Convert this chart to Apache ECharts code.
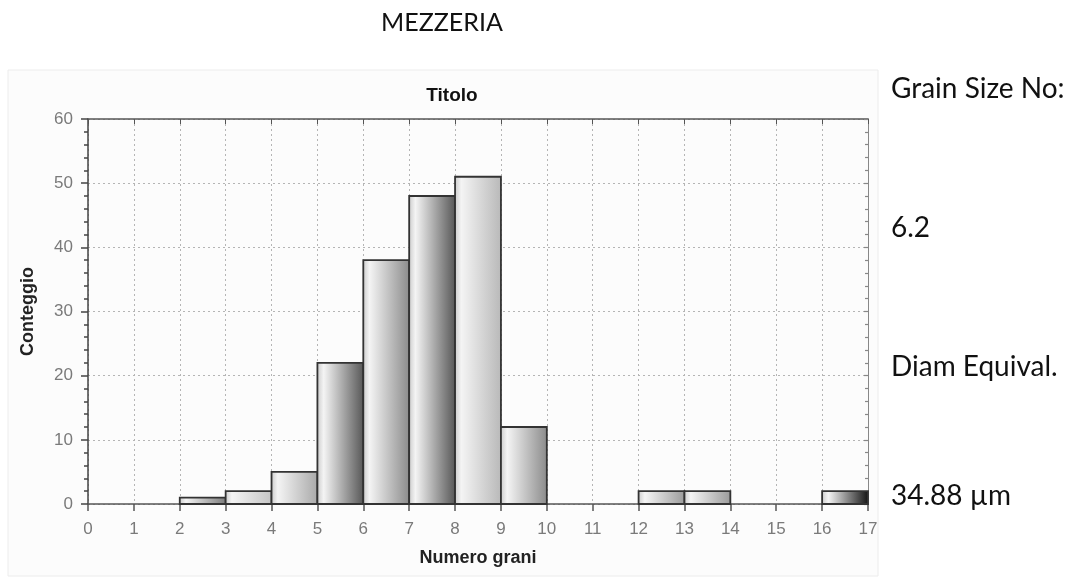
<!DOCTYPE html>
<html>
<head>
<meta charset="utf-8">
<script src="https://cdn.jsdelivr.net/npm/echarts@6/dist/echarts.min.js"></script>
<style>
  html, body { margin: 0; padding: 0; background: #ffffff; }
  #chart { width: 1076px; height: 579px; }
</style>
</head>
<body>
<div id="chart"></div>
<script>
// Histogram bins: lower edge of each bin (width 1) and its count
const binStart = [2, 3, 4, 5, 6, 7, 8, 9, 12, 13, 16];
const counts   = [1, 2, 5, 22, 38, 48, 51, 12, 2, 2, 2];
// Darkest shade reached at the right side of each bar's gradient
const shades   = ['#7a7a7a', '#c4c4c4', '#a8a8a8', '#555555', '#8a8a8a', '#555555', '#b8b8b8', '#8a8a8a', '#9a9a9a', '#9a9a9a', '#111111'];

const xTicks = [0, 17, 1];   // min, max, step
const yTicks = [0, 60, 10];

const sideNotes = [
  { text: 'Grain Size No:', y: 89 },
  { text: '6.2', y: 228 },
  { text: 'Diam Equival.', y: 367 },
  { text: '34.88 \u00b5m', y: 496 }
];

const data = binStart.map((s, i) => [s, s + 1, counts[i], i]);

const chart = echarts.init(document.getElementById('chart'), null, { renderer: 'canvas' });

const gridLine = { show: true, lineStyle: { color: '#b5b5b5', type: [2, 3], width: 1 } };
const chartFont = 'Liberation Sans, Arial, sans-serif';

const option = {
  animation: false,
  backgroundColor: '#ffffff',
  title: {
    text: 'Titolo',
    left: 447, top: 81, textAlign: 'center',
    textStyle: { fontFamily: chartFont, fontWeight: 'bold', fontSize: 19, color: '#111' }
  },
  graphic: [
    {
      type: 'rect', z: -10,
      shape: { x: 8, y: 70, width: 870, height: 506 },
      style: { fill: '#fcfcfc', stroke: '#ececec', lineWidth: 1 }
    },
    {
      type: 'text', z: 10,
      style: { text: 'MEZZERIA', x: 442, y: 23, align: 'center', verticalAlign: 'middle',
               font: '25px Lato, "Open Sans", sans-serif', fill: '#111' }
    }
  ].concat(sideNotes.map(n => ({
    type: 'text', z: 10,
    style: { text: n.text, x: 891, y: n.y, align: 'left', verticalAlign: 'middle',
             font: '28px Lato, "Open Sans", sans-serif', fill: '#111' }
  }))),
  grid: { left: 88, top: 119, width: 780, height: 385, show: false },
  xAxis: [
    {
      type: 'value', min: xTicks[0], max: xTicks[1], interval: xTicks[2], position: 'bottom',
      name: 'Numero grani', nameLocation: 'middle', nameGap: 45,
      nameTextStyle: { fontFamily: chartFont, fontWeight: 'bold', fontSize: 18, color: '#222' },
      axisLine: { show: true, onZero: false, lineStyle: { color: '#555', width: 1.5 } },
      axisTick: { show: true, inside: false, length: 7, lineStyle: { color: '#555', width: 1.5 } },
      axisLabel: { color: '#7a7a7a', fontFamily: chartFont, fontSize: 17, margin: 17 },
      splitLine: gridLine
    },
    {
      type: 'value', min: xTicks[0], max: xTicks[1], interval: xTicks[2], position: 'top',
      axisLine: { show: true, onZero: false, lineStyle: { color: '#555', width: 1.5 } },
      axisTick: { show: true, inside: true, length: 5, lineStyle: { color: '#555', width: 1 } },
      axisLabel: { show: false },
      splitLine: { show: false }
    }
  ],
  yAxis: [
    {
      type: 'value', min: yTicks[0], max: yTicks[1], interval: yTicks[2], position: 'left',
      name: 'Conteggio', nameLocation: 'middle', nameGap: 51, nameRotate: 90,
      nameTextStyle: { fontFamily: chartFont, fontWeight: 'bold', fontSize: 18, color: '#222' },
      axisLine: { show: true, onZero: false, lineStyle: { color: '#444', width: 1.5 } },
      axisTick: { show: true, inside: false, length: 7, lineStyle: { color: '#444', width: 1.5 } },
      minorTick: { show: true, splitNumber: 5, length: 4, lineStyle: { color: '#444', width: 1.5 } },
      axisLabel: { color: '#7a7a7a', fontFamily: chartFont, fontSize: 17, margin: 15 },
      splitLine: gridLine
    },
    {
      type: 'value', min: yTicks[0], max: yTicks[1], interval: yTicks[2], position: 'right',
      axisLine: { show: true, onZero: false, lineStyle: { color: '#888', width: 1 } },
      axisTick: { show: true, inside: true, length: 4, lineStyle: { color: '#888', width: 1.2 } },
      minorTick: { show: true, splitNumber: 5, length: 3, lineStyle: { color: '#888', width: 1.2 } },
      axisLabel: { show: false },
      splitLine: { show: false }
    }
  ],
  series: [
    {
      type: 'custom',
      xAxisIndex: 0, yAxisIndex: 0,
      encode: { x: [0, 1], y: 2 },
      data: data,
      renderItem: function (params, api) {
        const p0 = api.coord([api.value(0), api.value(2)]);
        const p1 = api.coord([api.value(1), 0]);
        const idx = api.value(3);
        return {
          type: 'rect',
          shape: { x: p0[0], y: p0[1], width: p1[0] - p0[0], height: p1[1] - p0[1] },
          style: {
            fill: new echarts.graphic.LinearGradient(0, 0, 1, 0, [
              { offset: 0, color: '#c8c8c8' },
              { offset: 0.15, color: '#f4f4f4' },
              { offset: 1, color: shades[idx] }
            ]),
            stroke: '#333333',
            lineWidth: 1.8
          }
        };
      }
    }
  ]
};

chart.setOption(option);
</script>
</body>
</html>
